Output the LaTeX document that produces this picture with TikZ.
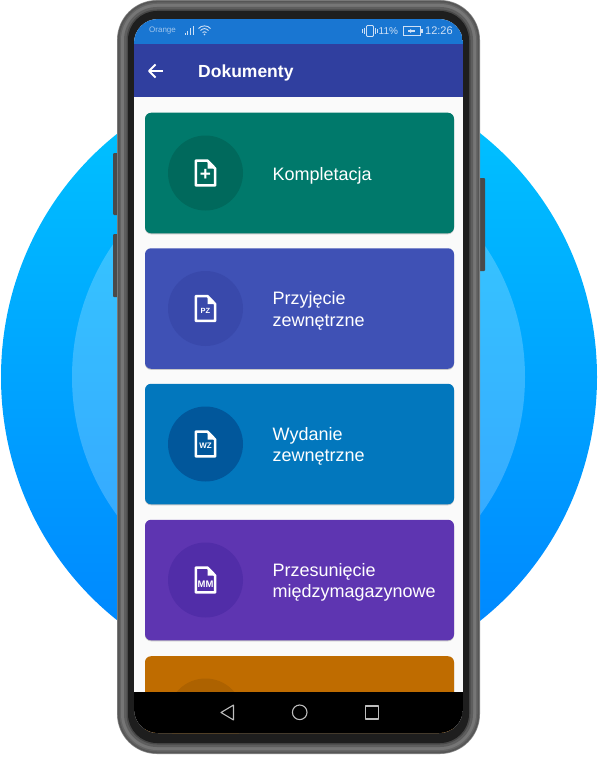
\documentclass[tikz,border=0pt]{standalone}
\usepackage{fontspec}
\setmainfont{Liberation Sans}
\definecolor{statusblue}{HTML}{1976D2}
\definecolor{barindigo}{HTML}{303F9F}
\definecolor{pagegrey}{HTML}{FAFAFA}
\definecolor{bezel}{HTML}{1E1E1E}
\definecolor{statustext}{HTML}{CFE0F5}
\definecolor{navgrey}{HTML}{BDBDBD}
\definecolor{cardteal}{HTML}{00796B}
\definecolor{badgeteal}{HTML}{00695C}
\definecolor{cardindigo}{HTML}{3F51B5}
\definecolor{badgeindigo}{HTML}{3949AB}
\definecolor{cardblue}{HTML}{0277BD}
\definecolor{badgeblue}{HTML}{01579B}
\definecolor{cardpurple}{HTML}{5E35B1}
\definecolor{badgepurple}{HTML}{512DA8}
\definecolor{cardorange}{HTML}{BF6C00}
\definecolor{badgeorange}{HTML}{AD6200}
\definecolor{rimA}{HTML}{8C8C8C}
\definecolor{rimB}{HTML}{565656}
\definecolor{rimC}{HTML}{646464}
\definecolor{rimD}{HTML}{767676}
\definecolor{rimE}{HTML}{5E5E5E}
\definecolor{rimF}{HTML}{484848}
\definecolor{buttongrey}{HTML}{4A4A4A}
\tikzset{
  card/.style={rounded corners=6pt,minimum width=309pt,minimum height=120.5pt,inner sep=0pt,
    preaction={fill=black!22,transform canvas={yshift=-1pt}}},
  badge/.style={circle,minimum size=75pt,inner sep=0pt},
  cardlabel/.style={anchor=west,align=left,inner sep=0pt,text=white,font=\fontsize{18}{21.5}\selectfont},
  docmark/.style={inner sep=0pt,text=white,font=\bfseries},
  statuslabel/.style={inner sep=0pt,text=statustext},
  navmark/.style={draw=navgrey,line width=1.1pt,line join=round},
  phonekey/.style={fill=buttongrey,rounded corners=1pt}
}
\begin{document}
\begin{tikzpicture}[x=1pt,y=-1pt]
  \useasboundingbox (0,0) rectangle (600,757);
  \shade[top color={rgb,255:red,0;green,198;blue,255},bottom color={rgb,255:red,0;green,130;blue,255}]
    (299,377) ellipse [x radius=298,y radius=307];
  \fill[white,opacity=.21] (298.5,377) ellipse [x radius=226.5,y radius=231];
  \fill[phonekey] (113,153) rectangle (119,215);
  \fill[phonekey] (113,234) rectangle (119,297);
  \fill[phonekey] (478,178) rectangle (485,271);
  \foreach \inset/\col in {0/rimA,.7/rimB,2.5/rimC,4/rimD,7/rimE,9.5/rimF,11/bezel}{
    \pgfmathsetmacro\rad{40-\inset}
    \fill[\col,rounded corners=\rad pt] (117+\inset,\inset) rectangle (480-\inset,754-\inset);
  }
  \begin{scope}
    \clip[rounded corners=24pt] (134,19) rectangle (463,733);
    \fill[pagegrey] (134,19) rectangle (463,733);
    \fill[statusblue] (134,19) rectangle (463,44);
    \fill[barindigo] (134,44) rectangle (463,97);
    \foreach \name/\ypos/\cardcol/\badgecol/\marktext/\marksize/\markshift/\txt in {
      kompletacja/173/cardteal/badgeteal/+/19/2/{Kompletacja},
      przyjecie/308.5/cardindigo/badgeindigo/PZ/7.5/2.5/{Przyjęcie\\zewnętrzne},
      wydanie/444/cardblue/badgeblue/WZ/8/2/{Wydanie\\zewnętrzne},
      przesuniecie/580/cardpurple/badgepurple/MM/9.5/4/{Przesunięcie\\międzymagazynowe}}{
      \node[card,fill=\cardcol] at (299.5,\ypos) (\name) {};
      \node[badge,fill=\badgecol] at (205.5,\ypos) (\name badge) {};
      \node[cardlabel] at (272.5,\ypos+2.5) (\name label) {\txt};
      \begin{scope}[shift={(205.5,\ypos)}]
        \draw[white,line width=2.6pt,line join=round] (-9.6,-12.4) -- (2,-12.4) -- (9.6,-4.5) -- (9.6,12.4) -- (-9.6,12.4) -- cycle;
        \fill[white] (2,-12.4) -- (2,-4.5) -- (9.6,-4.5) -- cycle;
        \node[docmark] at (0,\markshift) (\name mark) {\fontsize{\marksize}{\marksize}\selectfont\marktext};
      \end{scope}
    }
    \node[card,fill=cardorange,anchor=north] at (299.5,656) (orange) {};
    \node[badge,fill=badgeorange] at (205.5,716) (orangebadge) {};
    \fill[black] (134,692) rectangle (463,733);
  \end{scope}
  \node[statuslabel,anchor=west,text=statustext!75!statusblue] at (149,31) (carrier) {\fontsize{8}{8}\selectfont Orange};
  \foreach \x/\top in {184.5/33,187/31,189.5/28,192.5/26}{
    \fill[statustext] (\x,35) rectangle (\x+1.3,\top);
  }
  \begin{scope}[statustext,line width=.9pt]
    \draw (198.5,28.5) .. controls (201.5,25) and (207.5,25) .. (210.5,28.5);
    \draw (200.5,30.5) .. controls (203,28) and (206,28) .. (208.5,30.5);
    \draw (202.5,32.5) .. controls (203.5,31.5) and (205.5,31.5) .. (206.5,32.5);
    \fill (204.5,34.5) circle (.9);
    \draw[rounded corners=1pt] (366.5,25.5) rectangle (373.5,36.5);
    \draw (364.5,28) -- (364.5,34);
    \draw (375.5,28) -- (375.5,34);
    \draw (362.8,29) -- (362.8,33);
    \draw (377.2,29) -- (377.2,33);
    \draw (403.5,26.5) rectangle (420,35.5);
    \fill (421,29) rectangle (422.5,33);
    \fill (408,30.4) rectangle (415,31.6);
    \fill (411,29) -- (411,33) -- (408.5,31) -- cycle;
  \end{scope}
  \node[statuslabel,anchor=west] at (378.5,31) (battery) {\fontsize{10}{10}\selectfont 11\%};
  \node[statuslabel,anchor=west] at (425,31) (clock) {\fontsize{11}{11}\selectfont 12:26};
  \draw[white,line width=1.8pt,line join=round] (162.5,71) -- (149.5,71);
  \draw[white,line width=1.8pt,line join=round] (155.5,64.5) -- (149,71) -- (155.5,77.5);
  \node[anchor=west,inner sep=0pt,text=white,font=\bfseries\fontsize{17.5}{20}\selectfont] at (198,72.5) (title) {Dokumenty};
  \draw[navmark] (233.5,705) -- (233.5,720) -- (221,712.5) -- cycle;
  \draw[navmark] (299.7,712.3) circle (7.3);
  \draw[navmark] (365.5,706) rectangle (378.5,719);
\end{tikzpicture}
\end{document}
